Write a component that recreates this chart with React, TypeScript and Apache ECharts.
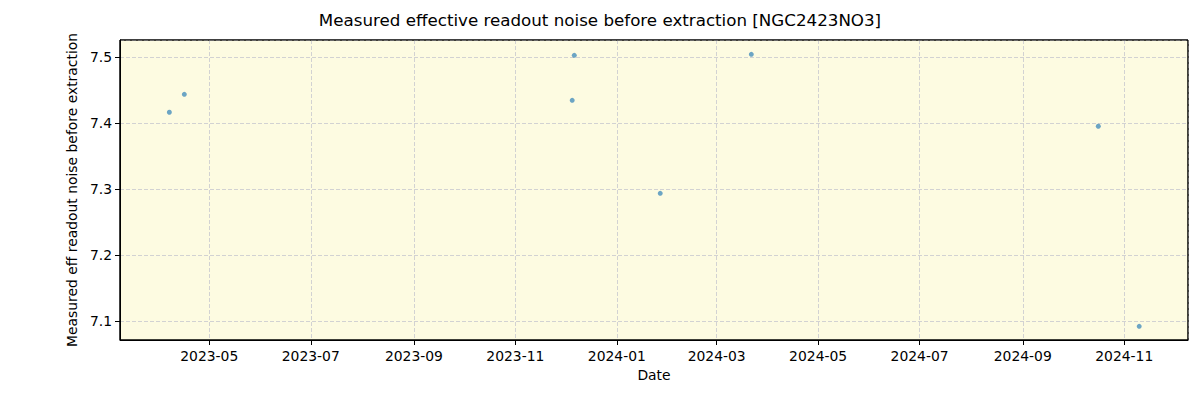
import React, { useEffect, useRef } from "react";
import * as echarts from "echarts";

const titleText = "Measured effective readout noise before extraction [NGC2423NO3]";
const xAxisName = "Date";
const yAxisName = "Measured eff readout noise before extraction";

const dates: string[] = [
  "2023-04-07T00:00:00",
  "2023-04-16T00:00:00",
  "2023-12-05T04:00:00",
  "2023-12-06T10:00:00",
  "2024-01-27T02:00:00",
  "2024-03-21T20:00:00",
  "2024-10-16T10:00:00",
  "2024-11-10T00:00:00",
];
const noise: number[] = [7.4167, 7.4439, 7.4348, 7.503, 7.2939, 7.5045, 7.3955, 7.0924];

const xMin = "2023-03-08T08:00:00";
const xMax = "2024-12-09T08:00:00";
const yMin = 7.0717;
const yMax = 7.5262;

const FONT = "DejaVu Sans";
const GRID = { left: 120, right: 12, top: 40, bottom: 60 };

export default function App() {
  const ref = useRef<HTMLDivElement>(null);
  useEffect(() => {
    document.body.style.margin = "0";
    const chart = echarts.init(ref.current!, null, { renderer: "svg" });
    const pad = (n: number) => (n < 10 ? "0" + n : "" + n);
    const gridLine = { show: true, lineStyle: { color: "#d2d2d2", type: [4, 2], width: 1 } };
    chart.setOption({
      animation: false,
      backgroundColor: "#ffffff",
      textStyle: { fontFamily: FONT },
      title: {
        text: titleText,
        left: "center",
        top: 6,
        textStyle: { fontFamily: FONT, fontSize: 16.7, fontWeight: "normal", color: "#000" },
      },
      grid: {
        ...GRID,
        show: true,
        backgroundColor: "#fdfbe1",
        borderColor: "#000",
        borderWidth: 1,
      },
      graphic: [
        {
          type: "rect",
          z: 100,
          silent: true,
          shape: { x: GRID.left, y: GRID.top, width: 1200 - GRID.left - GRID.right, height: 400 - GRID.top - GRID.bottom },
          style: { fill: "none", stroke: "#000", lineWidth: 1 },
        },
      ],
      xAxis: {
        type: "time",
        min: new Date(xMin).getTime(),
        max: new Date(xMax).getTime(),
        splitNumber: 10,
        minInterval: 61 * 86400000,
        maxInterval: 75 * 86400000,
        name: xAxisName,
        nameLocation: "middle",
        nameGap: 27,
        nameTextStyle: { fontFamily: FONT, fontSize: 13.9, color: "#000" },
        axisLine: { show: true, lineStyle: { color: "#000", width: 1 } },
        axisTick: { show: true, length: 5, lineStyle: { color: "#000" } },
        axisLabel: {
          show: true,
          margin: 9,
          fontFamily: FONT,
          fontSize: 13.9,
          color: "#000",
          showMinLabel: false,
          showMaxLabel: false,
          hideOverlap: false,
          formatter: (v: number) => {
            const d = new Date(v);
            if (d.getDate() !== 1 || d.getHours() !== 0) return "";
            return d.getFullYear() + "-" + pad(d.getMonth() + 1);
          },
        },
        splitLine: gridLine,
        minorTick: { show: false },
      },
      yAxis: {
        type: "value",
        min: yMin,
        max: yMax,
        splitNumber: 5,
        name: yAxisName,
        nameLocation: "middle",
        nameRotate: 90,
        nameGap: 38,
        nameTextStyle: { fontFamily: FONT, fontSize: 13.9, color: "#000" },
        axisLine: { show: true, lineStyle: { color: "#000", width: 1 } },
        axisTick: { show: true, length: 5, lineStyle: { color: "#000" } },
        axisLabel: {
          show: true,
          margin: 8,
          fontFamily: FONT,
          fontSize: 13.9,
          color: "#000",
          showMinLabel: false,
          showMaxLabel: false,
          formatter: (v: number) => {
            const t = v * 10;
            if (Math.abs(t - Math.round(t)) > 1e-6) return "";
            return v.toFixed(1);
          },
        },
        splitLine: gridLine,
      },
      series: [
        {
          type: "scatter",
          data: dates.map((d, i) => [new Date(d).getTime(), noise[i]]),
          symbol: "circle",
          symbolSize: 5,
          itemStyle: { color: "#1f77b4", opacity: 0.65 },
        },
      ],
    });
    return () => chart.dispose();
  }, []);
  return <div ref={ref} style={{ width: 1200, height: 400 }} />;
}
